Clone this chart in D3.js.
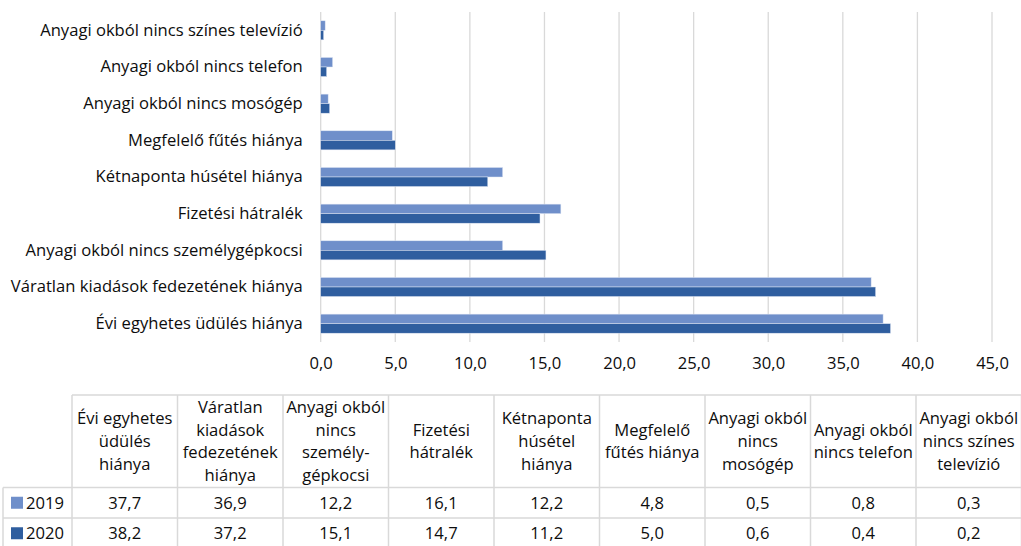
<!DOCTYPE html>
<html>
<head>
<meta charset="utf-8">
<script src="https://cdn.jsdelivr.net/npm/d3@7"></script>
<style>
  body { margin: 0; background: #fff; }
  svg text { font-family: "Open Sans", Lato, sans-serif; fill: #0d0d0d; }
</style>
</head>
<body>
<svg id="chart" width="1021" height="546"></svg>
<script>
// categories in table order (bottom bar first)
const categories = [
  'Évi egyhetes üdülés hiánya',
  'Váratlan kiadások fedezetének hiánya',
  'Anyagi okból nincs személygépkocsi',
  'Fizetési hátralék',
  'Kétnaponta húsétel hiánya',
  'Megfelelő fűtés hiánya',
  'Anyagi okból nincs mosógép',
  'Anyagi okból nincs telefon',
  'Anyagi okból nincs színes televízió'
];
// header wording used in the data table
const tableHeaders = [
  ['Évi egyhetes', 'üdülés', 'hiánya'],
  ['Váratlan', 'kiadások', 'fedezetének', 'hiánya'],
  ['Anyagi okból', 'nincs', 'személy-', 'gépkocsi'],
  ['Fizetési', 'hátralék'],
  ['Kétnaponta', 'húsétel', 'hiánya'],
  ['Megfelelő', 'fűtés hiánya'],
  ['Anyagi okból', 'nincs', 'mosógép'],
  ['Anyagi okból', 'nincs telefon'],
  ['Anyagi okból', 'nincs színes', 'televízió']
];
const series = ['2019', '2020'];
const values2019 = [37.7, 36.9, 12.2, 16.1, 12.2, 4.8, 0.5, 0.8, 0.3];
const values2020 = [38.2, 37.2, 15.1, 14.7, 11.2, 5.0, 0.6, 0.4, 0.2];
const xTicks = [0, 5, 10, 15, 20, 25, 30, 35, 40, 45];

const colors = { '2019': '#6f8fca', '2020': '#2f5e9f' };
const gridColor = '#d9d9d9';
const fontSize = '16.6px';
const fmt = d => d3.format('.1f')(d).replace('.', ',');

const svg = d3.select('#chart');

// ---- bar chart ----
const plot = { left: 320.7, right: 992, top: 12, bottom: 342 };

const x = d3.scaleLinear().domain([0, 45]).range([plot.left, plot.right]);
const y = d3.scaleBand()
  .domain(categories.slice().reverse())
  .range([plot.top, plot.bottom])
  .paddingInner(0.48).paddingOuter(0.24);
const ySub = d3.scaleBand().domain(series).range([0, y.bandwidth()]);

const rows = categories.map((c, i) => ({ cat: c, '2019': values2019[i], '2020': values2020[i] }));

// vertical gridlines
svg.append('g').selectAll('line').data(xTicks).enter().append('line')
  .attr('x1', d => x(d)).attr('x2', d => x(d))
  .attr('y1', plot.top).attr('y2', plot.bottom)
  .attr('stroke', gridColor).attr('stroke-width', 1.3);

// bars
const groups = svg.append('g').selectAll('g').data(rows).enter().append('g')
  .attr('transform', d => 'translate(0,' + y(d.cat) + ')');

groups.selectAll('rect').data(d => series.map(s => ({ s: s, v: d[s] }))).enter().append('rect')
  .attr('x', x(0))
  .attr('y', d => ySub(d.s))
  .attr('width', d => x(d.v) - x(0))
  .attr('height', ySub.bandwidth())
  .attr('fill', d => colors[d.s])
  .attr('stroke', '#dfe6f3').attr('stroke-width', 0.5);

// category labels
const yAxis = svg.append('g')
  .attr('transform', 'translate(' + (plot.left - 18) + ',0)')
  .call(d3.axisLeft(y).tickSize(0).tickPadding(0));
yAxis.select('.domain').remove();
yAxis.selectAll('text')
  .style('font-family', '"Open Sans", Lato, sans-serif')
  .style('font-size', fontSize).style('fill', '#0d0d0d');

// value axis labels
const xAxis = svg.append('g')
  .attr('transform', 'translate(0,' + plot.bottom + ')')
  .call(d3.axisBottom(x).tickValues(xTicks).tickFormat(fmt).tickSize(0).tickPadding(15));
xAxis.select('.domain').remove();
xAxis.selectAll('text')
  .style('font-family', '"Open Sans", Lato, sans-serif')
  .style('font-size', fontSize).style('fill', '#0d0d0d');

// ---- data table ----
const table = { left: 72, colW: 105.5, top: 395, headH: 92.5, rowH: 30.5 };
const tx = d3.scaleBand().domain(categories)
  .range([table.left, table.left + table.colW * categories.length]);
const tableG = svg.append('g');
const tableBottom = table.top + table.headH + table.rowH * 2;

// horizontal rules
const hLines = [
  { y: table.top, x1: table.left },
  { y: table.top + table.headH, x1: 3 },
  { y: table.top + table.headH + table.rowH, x1: 3 },
  { y: tableBottom, x1: 3 }
];
tableG.selectAll('line.h').data(hLines).enter().append('line')
  .attr('class', 'h')
  .attr('x1', d => d.x1).attr('x2', 1021)
  .attr('y1', d => d.y).attr('y2', d => d.y)
  .attr('stroke', gridColor).attr('stroke-width', 1.5);

// vertical rules
const vEdges = categories.map(c => tx(c)).concat([tx.range()[1]]);
tableG.selectAll('line.v').data(vEdges).enter().append('line')
  .attr('class', 'v')
  .attr('x1', d => d).attr('x2', d => d)
  .attr('y1', table.top).attr('y2', tableBottom)
  .attr('stroke', gridColor).attr('stroke-width', 1.5);
tableG.append('line')
  .attr('x1', 3).attr('x2', 3)
  .attr('y1', table.top + table.headH).attr('y2', tableBottom)
  .attr('stroke', gridColor).attr('stroke-width', 1.5);

// header text
const lineH = 22.6;
const headCells = tableG.selectAll('text.head').data(categories).enter().append('text')
  .attr('class', 'head')
  .attr('text-anchor', 'middle')
  .style('font-size', fontSize);
headCells.each(function (c, i) {
  const lines = tableHeaders[i];
  const cy = table.top + table.headH / 2 - (lines.length - 1) * lineH / 2;
  d3.select(this).selectAll('tspan').data(lines).enter().append('tspan')
    .attr('x', tx(c) + tx.bandwidth() / 2)
    .attr('y', (d, j) => cy + j * lineH)
    .attr('dy', '0.35em')
    .text(d => d);
});

// value rows
const seriesValues = { '2019': values2019, '2020': values2020 };
series.forEach((s, r) => {
  const cy = table.top + table.headH + table.rowH * (r + 0.5);
  tableG.append('rect')
    .attr('x', 11).attr('y', cy - 6).attr('width', 12).attr('height', 12)
    .attr('fill', colors[s]);
  tableG.append('text')
    .attr('x', 26).attr('y', cy).attr('dy', '0.35em')
    .style('font-size', fontSize).text(s);
  tableG.selectAll('text.v' + s).data(categories).enter().append('text')
    .attr('class', 'v' + s)
    .attr('x', c => tx(c) + tx.bandwidth() / 2)
    .attr('y', cy).attr('dy', '0.35em')
    .attr('text-anchor', 'middle')
    .style('font-size', fontSize)
    .text((c, i) => fmt(seriesValues[s][i]));
});
</script>
</body>
</html>
